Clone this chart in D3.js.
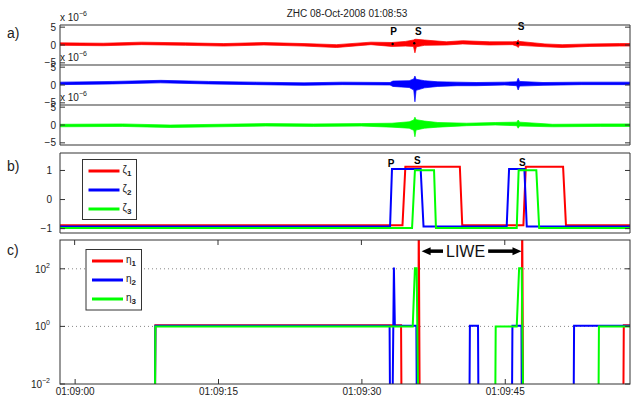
<!DOCTYPE html>
<html>
<head>
<meta charset="utf-8">
<script src="https://cdn.jsdelivr.net/npm/d3@7"></script>
<style>
  body { margin: 0; background: #fff; }
  svg { font-family: "Liberation Sans", Arial, sans-serif; }
</style>
</head>
<body>
<div id="chart"></div>
<script>
// all times are seconds after 01:09:00
const timeLimits = [-1.53, 58.1];
const timeTicks = [0, 15, 30, 45];

// panel a: seismogram envelopes, [t, low, high] in units of 1e-6
const traceRed = [
  [-1.53, -0.1, 0.6], [3, -0.2, 0.5], [7, 0.1, 0.8], [11.6, -0.1, 0.6], [15.6, -0.3, 0.4],
  [19.8, 0, 0.7], [24, -0.3, 0.4], [27.4, -0.7, 0.1], [31, 0.1, 0.8], [33.2, -0.4, 0.7],
  [34.6, -0.3, 1.0], [35.45, -0.4, 1.4], [35.6, -2.2, 1.6], [35.75, -0.5, 1.6], [36.6, -0.1, 1.4],
  [38.9, 0, 0.9], [40.6, 0.3, 1.2], [43.4, 0, 0.9], [45.8, 0.1, 0.9], [46.25, -0.3, 1.0],
  [46.4, -0.7, 1.4], [46.55, -0.1, 1.0], [49.2, -0.5, 0.3], [51, -0.7, 0.1], [53.9, -0.4, 0.3],
  [57, -0.3, 0.4], [58.1, -0.3, 0.4]
];
const traceBlue = [
  [-1.53, 0.1, 0.8], [4, 0.3, 1.0], [9, 0.6, 1.3], [14, 0.3, 1.0], [19, 0.1, 0.8],
  [24, -0.1, 0.6], [28, 0.1, 0.8], [33.0, 0, 0.7], [33.3, -0.4, 1.1], [35.0, -0.7, 1.2],
  [35.48, -1.4, 1.7], [35.6, -4.7, 2.5], [35.72, -1.5, 1.6], [36.6, -0.8, 1.2], [38, -0.4, 0.9],
  [40, -0.2, 0.8], [42, -0.2, 0.7], [45, 0, 0.8], [46.25, -0.2, 0.9], [46.4, -1.4, 1.9],
  [46.55, -0.3, 1.0], [49, -0.1, 0.7], [53, 0.1, 0.8], [58.1, 0.1, 0.8]
];
const traceGreen = [
  [-1.53, -0.5, 0.2], [5, -0.4, 0.3], [10, -0.7, 0.0], [15, -0.5, 0.2], [20, -0.3, 0.4],
  [25, -0.4, 0.3], [30, -0.3, 0.4], [33.2, -0.6, 0.5], [35.0, -0.9, 0.9], [35.48, -1.5, 1.4],
  [35.6, -3.3, 2.2], [35.72, -1.4, 1.5], [36.6, -0.9, 1.1], [38, -0.6, 0.7], [41, -0.2, 0.5],
  [44, 0, 0.7], [46.25, -0.2, 0.8], [46.4, -0.9, 1.4], [46.55, -0.3, 0.8], [50, -0.5, 0.2],
  [55, -0.4, 0.3], [58.1, -0.4, 0.3]
];
const traceTicks = [-5, 0, 5];
const pickDots = [[33.27, 0.3], [35.53, 0.5], [46.35, 0.5]];
const pickLabelsA = [["P", 33.38, 3.7], ["S", 35.95, 3.7], ["S", 46.7, 5.1]];

// panel b: zeta step functions, [t, value]
const zeta1 = [[-1.53, -0.88], [34.3, -0.88], [34.6, 1.13], [40.3, 1.13], [40.55, -0.88], [46.95, -0.88],
  [47.2, 1.13], [51.1, 1.13], [51.4, -0.88], [58.1, -0.88]];
const zeta2 = [[-1.53, -0.93], [33.0, -0.93], [33.2, 1.05], [36.2, 1.05], [36.5, -0.93], [45.2, -0.93],
  [45.45, 1.05], [47.05, 1.05], [47.3, -0.93], [58.1, -0.93]];
const zeta3 = [[-1.53, -0.98], [35.3, -0.98], [35.6, 1.01], [37.6, 1.01], [37.8, -0.98], [46.25, -0.98],
  [46.45, 1.01], [48.3, 1.01], [48.6, -0.98], [58.1, -0.98]];
const zetaTicks = [-1, 0, 1];
const pickLabelsB = [["P", 33.1, 1.24], ["S", 35.85, 1.33], ["S", 46.83, 1.26]];

// panel c: eta step functions (log scale), [t, value]
const eta1 = [[-1.53, 1e-3], [8.4, 1e-3], [8.45, 1.1], [34.15, 1.1], [34.2, 1e-3], [35.95, 1e-3],
  [36.0, 1e4], [36.1, 1e-3], [46.77, 1e-3], [46.82, 1e4], [46.92, 1e-3], [57.4, 1e-3],
  [57.45, 1.1], [58.1, 1.1]];
const eta2 = [[-1.53, 1e-3], [8.4, 1e-3], [8.45, 1.05], [32.95, 1.05], [33.0, 1e-3], [33.25, 1e-3],
  [33.4, 110], [33.5, 1.05], [35.75, 1.05], [35.8, 1e-3], [41.3, 1e-3], [41.35, 1.05],
  [42.2, 1.05], [42.25, 1e-3], [45.75, 1e-3], [45.8, 1.05], [46.75, 1.05], [46.8, 1e-3],
  [52.2, 1e-3], [52.25, 1.05], [58.1, 1.05]];
const eta3 = [[-1.53, 1e-3], [8.4, 1e-3], [8.45, 1.0], [35.37, 1.0], [35.6, 105], [35.78, 105],
  [35.95, 1e-3], [44.0, 1e-3], [44.05, 1.0], [46.25, 1.0], [46.5, 105], [46.77, 105],
  [46.93, 1e-3], [54.8, 1e-3], [54.85, 1.0], [58.1, 1.0]];
const etaTicks = [1e-2, 1e0, 1e2];
const liwe = { from: 36.3, to: 46.75, text: 40.9, level: 410 };

const W = 631, H = 396;
const left = 60, right = 630;
const aTops = [25, 65, 105], aH = 40;
const bTop = 153, bBot = 233;
const cTop = 240, cBot = 384;
const red = "#ff0000", blue = "#0000ff", green = "#00ff00";

const T0 = new Date(2008, 9, 8, 1, 9, 0);
const toDate = s => new Date(T0.getTime() + s * 1000);

const svg = d3.select("#chart").append("svg")
  .attr("width", W).attr("height", H);

const x = d3.scaleTime().domain(timeLimits.map(toDate)).range([left, right]);

function clip(id, y0, y1) {
  svg.append("clipPath").attr("id", id).append("rect")
    .attr("x", left).attr("y", y0).attr("width", right - left).attr("height", y1 - y0);
}

function yTicks(scale, values, fmt) {
  const g = svg.append("g").attr("font-size", 10).attr("fill", "#222");
  values.forEach(v => {
    const yy = scale(v);
    g.append("line").attr("x1", left).attr("x2", left + 5).attr("y1", yy).attr("y2", yy)
      .attr("stroke", "#333");
    g.append("line").attr("x1", right - 5).attr("x2", right).attr("y1", yy).attr("y2", yy)
      .attr("stroke", "#333");
    fmt(g, v, yy);
  });
}

// title and panel letters
svg.append("text").attr("x", 347).attr("y", 17).attr("text-anchor", "middle")
  .attr("font-size", 10).attr("fill", "#222").text("ZHC  08-Oct-2008 01:08:53");
[["a)", 38], ["b)", 171], ["c)", 255]].forEach(d => {
  svg.append("text").attr("x", 7).attr("y", d[1]).attr("font-size", 14).attr("fill", "#222").text(d[0]);
});

// ---- panel a ----
[traceRed, traceBlue, traceGreen].forEach((tr, i) => {
  const top = aTops[i];
  const y = d3.scaleLinear().domain([-5.6, 5.6]).range([top + aH, top]);
  clip("clipA" + i, top, top + aH);
  const area = d3.area()
    .x(d => x(toDate(d[0])))
    .y0(d => y(d[1]))
    .y1(d => y(d[2]));
  svg.append("path").datum(tr).attr("clip-path", "url(#clipA" + i + ")")
    .attr("d", area).attr("fill", [red, blue, green][i])
    .attr("stroke", [red, blue, green][i]).attr("stroke-width", 0.7);
  yTicks(y, traceTicks, (g, v, yy) => g.append("text").attr("x", 56).attr("y", yy).attr("dy", "0.35em")
    .attr("text-anchor", "end").text(d3.format("d")(v)));
  const ex = svg.append("text").attr("x", left).attr("y", top - 4).attr("font-size", 10).attr("fill", "#222");
  ex.append("tspan").text("x 10");
  ex.append("tspan").attr("dy", -5).attr("font-size", 7).text("\u22126");
  if (i === 0) {
    svg.selectAll(".pickdot").data(pickDots).enter().append("circle")
      .attr("cx", d => x(toDate(d[0]))).attr("cy", d => y(d[1])).attr("r", 1.2).attr("fill", "#000");
    svg.selectAll(".picka").data(pickLabelsA).enter().append("text")
      .attr("x", d => x(toDate(d[1]))).attr("y", d => y(d[2])).attr("dy", "0.35em")
      .attr("text-anchor", "middle").attr("font-size", 10).attr("font-weight", "bold").text(d => d[0]);
  }
});
svg.append("line").attr("x1", left).attr("x2", right).attr("y1", aTops[0]).attr("y2", aTops[0]).attr("stroke", "#333");
[65, 105].forEach(yy => svg.append("line").attr("x1", left).attr("x2", right).attr("y1", yy).attr("y2", yy)
  .attr("stroke", "#999").attr("stroke-width", 2));
svg.append("line").attr("x1", left).attr("x2", right).attr("y1", 145).attr("y2", 145).attr("stroke", "#333");
[left, right].forEach(xx => svg.append("line").attr("x1", xx).attr("x2", xx).attr("y1", 25).attr("y2", 145).attr("stroke", "#333"));

// ---- panel b ----
const yB = d3.scaleLinear().domain([-1.15, 1.6]).range([bBot, bTop]);
clip("clipB", bTop, bBot);
const lineB = d3.line().x(d => x(toDate(d[0]))).y(d => yB(d[1]));
[[zeta1, red], [zeta2, blue], [zeta3, green]].forEach(d => {
  svg.append("path").datum(d[0]).attr("clip-path", "url(#clipB)").attr("d", lineB)
    .attr("fill", "none").attr("stroke", d[1]).attr("stroke-width", 2);
});
yTicks(yB, zetaTicks, (g, v, yy) => g.append("text").attr("x", 52).attr("y", yy).attr("dy", "0.35em")
  .attr("text-anchor", "end").text(d3.format("d")(v)));
svg.selectAll(".pickb").data(pickLabelsB).enter().append("text")
  .attr("x", d => x(toDate(d[1]))).attr("y", d => yB(d[2])).attr("dy", "0.35em")
  .attr("text-anchor", "middle").attr("font-size", 10).attr("font-weight", "bold").text(d => d[0]);
[bTop, bBot].forEach(yy => svg.append("line").attr("x1", left).attr("x2", right).attr("y1", yy).attr("y2", yy)
  .attr("stroke", "#999").attr("stroke-width", 2));
[left, right].forEach(xx => svg.append("line").attr("x1", xx).attr("x2", xx).attr("y1", bTop).attr("y2", bBot).attr("stroke", "#333"));

function legend(x0, y0, w, h, entries, sym) {
  const g = svg.append("g");
  g.append("rect").attr("x", x0).attr("y", y0).attr("width", w).attr("height", h)
    .attr("fill", "#fff").attr("stroke", "#333");
  entries.forEach((c, i) => {
    const yy = y0 + 11.5 + i * 19;
    g.append("line").attr("x1", x0 + 6).attr("x2", x0 + 37).attr("y1", yy).attr("y2", yy)
      .attr("stroke", c).attr("stroke-width", 3);
    const t = g.append("text").attr("x", x0 + 40).attr("y", yy + 2).attr("font-size", 10).attr("fill", "#222");
    t.append("tspan").text(sym);
    t.append("tspan").attr("dy", 3).attr("font-size", 8).attr("font-weight", "bold").text(i + 1);
  });
}
legend(82.5, 159.5, 54, 60, [red, blue, green], "\u03b6");

// ---- panel c ----
const yC = d3.scaleLog().domain([1e-2, 1e3]).range([cBot, cTop]);
clip("clipC", cTop, cBot);
etaTicks.filter(v => v > 1e-2).forEach(v => {
  svg.append("line").attr("x1", left).attr("x2", right).attr("y1", yC(v)).attr("y2", yC(v))
    .attr("stroke", "#888").attr("stroke-dasharray", "1,3");
});
const lineC = d3.line().x(d => x(toDate(d[0]))).y(d => yC(d[1]));
[[eta1, red], [eta2, blue], [eta3, green]].forEach(d => {
  svg.append("path").datum(d[0]).attr("clip-path", "url(#clipC)").attr("d", lineC)
    .attr("fill", "none").attr("stroke", d[1]).attr("stroke-width", 2);
});
yTicks(yC, etaTicks, (g, v, yy) => {
  const t = g.append("text").attr("x", 50).attr("y", yy + 4).attr("text-anchor", "end");
  t.append("tspan").text("10");
  t.append("tspan").attr("dy", -5).attr("font-size", 7).text(d3.format("d")(Math.log10(v)));
});
svg.append("rect").attr("x", left).attr("y", cTop).attr("width", right - left).attr("height", cBot - cTop)
  .attr("fill", "none").attr("stroke", "#333");
const xAxis = d3.axisBottom(x).tickValues(timeTicks.map(toDate))
  .tickFormat(d3.timeFormat("%H:%M:%S")).tickSize(-5).tickPadding(4);
const gx = svg.append("g").attr("transform", "translate(0," + cBot + ")").call(xAxis);
gx.select(".domain").remove();
gx.selectAll("line").attr("stroke", "#333");
gx.selectAll("text").attr("font-size", 10).attr("fill", "#222").attr("font-family", "Liberation Sans, Arial, sans-serif");
timeTicks.forEach(s => svg.append("line").attr("x1", x(toDate(s))).attr("x2", x(toDate(s)))
  .attr("y1", cTop).attr("y2", cTop + 5).attr("stroke", "#333"));

// LIWE annotation
const ly = yC(liwe.level);
const xm = x(toDate(liwe.text));
const lt = svg.append("text").attr("x", xm).attr("y", ly).attr("dy", "0.35em")
  .attr("text-anchor", "middle").attr("font-size", 16).attr("fill", "#111").text("LIWE");
const half = lt.node().getComputedTextLength() / 2 + 3;
function arrow(xs, xe) {
  const dir = Math.sign(xe - xs);
  svg.append("line").attr("x1", xs).attr("x2", xe - dir * 8).attr("y1", ly).attr("y2", ly)
    .attr("stroke", "#000").attr("stroke-width", 3.5);
  svg.append("path").attr("d", `M${xe},${ly} L${xe - dir * 9},${ly - 4} L${xe - dir * 9},${ly + 4} Z`).attr("fill", "#000");
}
arrow(xm - half, x(toDate(liwe.from)));
arrow(xm + half, x(toDate(liwe.to)));

legend(86, 249.5, 55.5, 60.5, [red, blue, green], "\u03b7");
</script>
</body>
</html>
